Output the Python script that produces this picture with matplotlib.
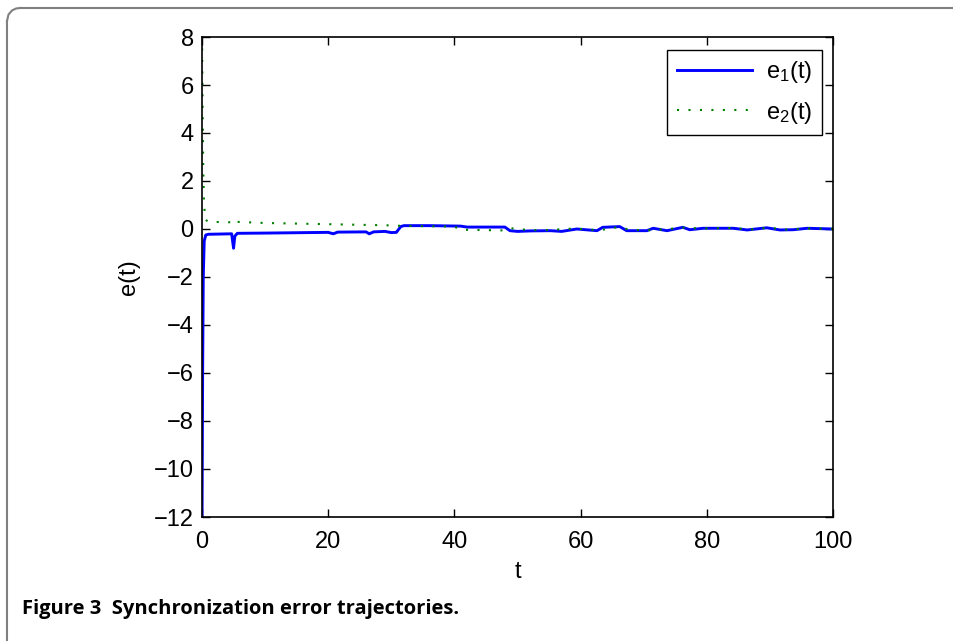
import matplotlib
matplotlib.use("Agg")
import matplotlib.pyplot as plt

plt.rcParams['font.family'] = ['Liberation Sans', 'DejaVu Sans']
plt.rcParams['mathtext.default'] = 'regular'

# e1(t)
t1 = [0, 0.1, 0.2, 0.35, 0.6, 1, 4.7, 5.0, 5.2, 5.6, 10, 20, 20.8, 21.5, 26, 26.5, 27.2,
      29, 30, 30.8, 31.5, 32, 36, 41, 42, 48, 48.8, 50, 52, 55.2, 57, 59.4, 62.6, 63.5,
      66.2, 67.3, 70.5, 71.5, 73.7, 76.2, 77.3, 79.4, 84.2, 86.4, 89.5, 91.6, 93.7, 95.9, 100]
e1 = [-12.5, -6, -2, -0.5, -0.25, -0.22, -0.2, -0.8, -0.3, -0.18, -0.17, -0.14, -0.2, -0.13,
      -0.12, -0.2, -0.12, -0.1, -0.15, -0.14, 0.1, 0.14, 0.14, 0.12, 0.08, 0.08, -0.07, -0.1,
      -0.08, -0.07, -0.1, 0.0, -0.07, 0.07, 0.1, -0.07, -0.07, 0.03, -0.07, 0.07, -0.03, 0.03,
      0.03, -0.04, 0.05, -0.04, -0.03, 0.03, 0.0]

# e2(t)
t2 = [0, 0.1, 0.2, 0.3, 0.5, 1, 4.7, 5.0, 5.3, 10, 20, 30, 31.5, 40, 41, 48, 49, 52, 55,
      59, 63, 66, 68, 71, 74, 76, 79, 84, 87, 90, 92, 96, 100]
e2 = [8.0, 5.0, 2.5, 1.2, 0.4, 0.3, 0.28, 0.38, 0.3, 0.25, 0.2, 0.15, 0.13, 0.1, -0.03,
      -0.06, 0.03, -0.05, -0.04, 0.02, -0.05, 0.08, -0.04, -0.05, 0.0, 0.06, 0.02, 0.04,
      -0.02, 0.06, -0.03, 0.02, 0.01]

xticks = [0, 20, 40, 60, 80, 100]
yticks = [-12, -10, -8, -6, -4, -2, 0, 2, 4, 6, 8]

fig = plt.figure(figsize=(9.54, 6.41), dpi=100)
ax = fig.add_axes([202/954, 124/641, 631/954, 480/641])

ax.plot(t1, e1, color='#0000ff', lw=2.1, label='e$_1$(t)')
ax.plot(t2, e2, color='#008000', lw=1.5, linestyle=(0, (1, 4.5)), label='e$_2$(t)')

ax.set_xlim(0, 100)
ax.set_ylim(-12, 8)
ax.set_xticks(xticks)
ax.set_yticks(yticks)
ax.tick_params(direction='in', top=True, right=True, labelsize=17, length=6, width=1, pad=6)
ax.tick_params(axis='x', pad=10)
for s in ax.spines.values():
    s.set_linewidth(1.2)
ax.set_xlabel('t', fontsize=17, labelpad=6)
ax.set_ylabel('e(t)', fontsize=17, labelpad=10)

leg = ax.legend(loc='upper right', bbox_to_anchor=(0.9826, 0.973), borderaxespad=0,
                fontsize=17, fancybox=False, framealpha=1, edgecolor='black',
                handlelength=3.2, handletextpad=0.6, borderpad=0.4, labelspacing=0.6)
leg.get_frame().set_linewidth(1.0)

# caption and page frame (left and top edges only)
fig.text(22/954, 27/641, 'Figure 3  Synchronization error trajectories.',
         fontsize=14.5, fontweight='bold', family=['Open Sans', 'DejaVu Sans'])
fig.add_artist(plt.Line2D([7/954, 7/954], [0, 620/641], color='#808080', lw=1.5))
fig.add_artist(plt.Line2D([20/954, 1], [633/641, 633/641], color='#808080', lw=1.5))
fig.add_artist(plt.Line2D([7/954, 8.5/954, 12/954, 16/954, 20/954],
                          [620/641, 626.5/641, 630.5/641, 632.5/641, 633/641],
                          color='#808080', lw=1.5))

fig.savefig('out.png', dpi=100)
